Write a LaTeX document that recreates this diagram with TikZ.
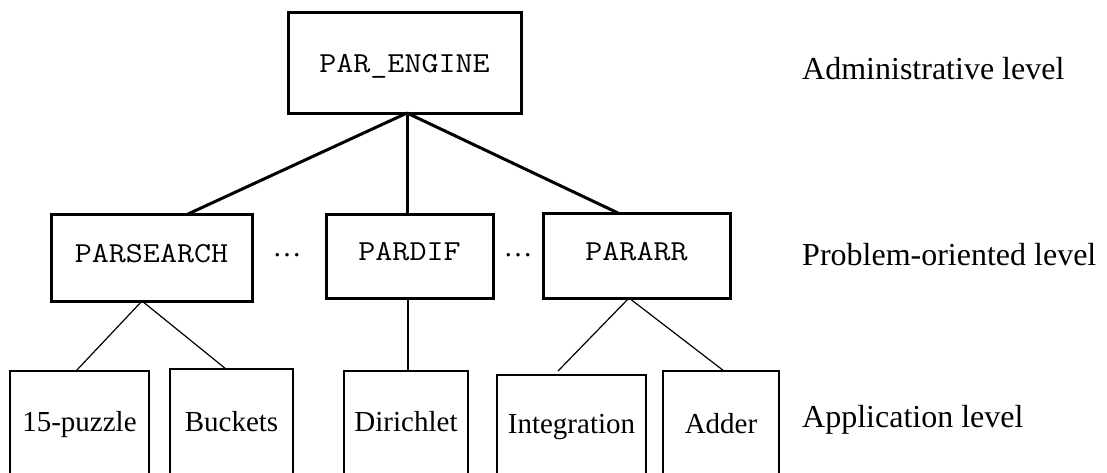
\documentclass[tikz,border=0pt]{standalone}
\usepackage{fontspec}
\setmainfont{Liberation Serif}
\setmonofont[FakeStretch=1.14]{Latin Modern Mono}
\begin{document}
\begin{tikzpicture}[x=1pt,y=-1pt,
  upper/.style={draw,line width=3pt,inner sep=0pt,outer sep=0pt,
    text height=19pt,text depth=10pt,font=\ttfamily\fontsize{29}{34}\selectfont},
  lower/.style={draw,line width=1.2pt,inner sep=0pt,outer sep=0pt,
    text height=20pt,text depth=7pt,font=\fontsize{29}{34}\selectfont},
  heavy/.style={line width=3pt},
  light/.style={line width=1.2pt},
  gap/.style={inner sep=0pt,font=\fontsize{29}{34}\selectfont},
  levellabel/.style={anchor=base west,inner sep=0pt,font=\fontsize{32}{38}\selectfont}]
\useasboundingbox (0,0) rectangle (1107,472);
\clip (0,0) rectangle (1107,472);

% administrative level
\node[upper,minimum width=233pt,minimum height=101pt,text depth=0pt] (engine) at (404.5,62.5) {PAR\_ENGINE};

% problem-oriented level
\node[upper,minimum width=201pt,minimum height=87pt] (search) at (151.5,257.5) {PARSEARCH};
\node[upper,minimum width=167pt,minimum height=84pt] (dif) at (409.5,256) {PARDIF};
\node[upper,minimum width=187pt,minimum height=85pt] (arr) at (636.5,255.5) {PARARR};
\node[gap] (gapA) at (287,255) {…};
\node[gap] (gapB) at (518,255) {…};

% application level (boxes run past the lower edge)
\node[lower,minimum width=139pt,minimum height=107pt] (puzzle) at (79.5,424.5) {15-puzzle};
\node[lower,minimum width=123pt,minimum height=111pt] (buckets) at (231.5,424.5) {Buckets};
\node[lower,minimum width=124pt,minimum height=107pt] (dirichlet) at (406,424.5) {Dirichlet};
\node[lower,minimum width=149pt,minimum height=103pt] (integration) at (571.5,426.5) {Integration};
\node[lower,minimum width=116pt,minimum height=111pt] (adder) at (721,426.5) {Adder};

% level captions
\node[levellabel] (admin) at (802,79) {Administrative level};
\node[levellabel] (problem) at (802,265) {Problem-oriented level};
\node[levellabel] (appl) at (802,427) {Application level};

% attachment abscissae
\coordinate (hub) at (407,0);
\coordinate (sj) at (188,0);
\coordinate (aj) at (618,0);
\coordinate (sb) at (142,0);
\coordinate (pzj) at (76,0);
\coordinate (bkj) at (226,0);
\coordinate (dd) at (408,0);
\coordinate (ab) at (629,0);
\coordinate (inj) at (558,0);
\coordinate (adj) at (724,0);

% upper tree
\draw[heavy] (engine.south -| hub) -- (search.north -| sj);
\draw[heavy] (engine.south -| hub) -- (dif.north -| hub);
\draw[heavy] (engine.south -| hub) -- (arr.north -| aj);

% lower trees
\draw[light] (search.south -| sb) -- (puzzle.north -| pzj);
\draw[light] (search.south -| sb) -- (buckets.north -| bkj);
\draw[light] (dif.south -| dd) -- (dirichlet.north -| dd);
\draw[light] (arr.south -| ab) -- ([yshift=4pt]integration.north -| inj);
\draw[light] (arr.south -| ab) -- (adder.north -| adj);
\end{tikzpicture}
\end{document}
